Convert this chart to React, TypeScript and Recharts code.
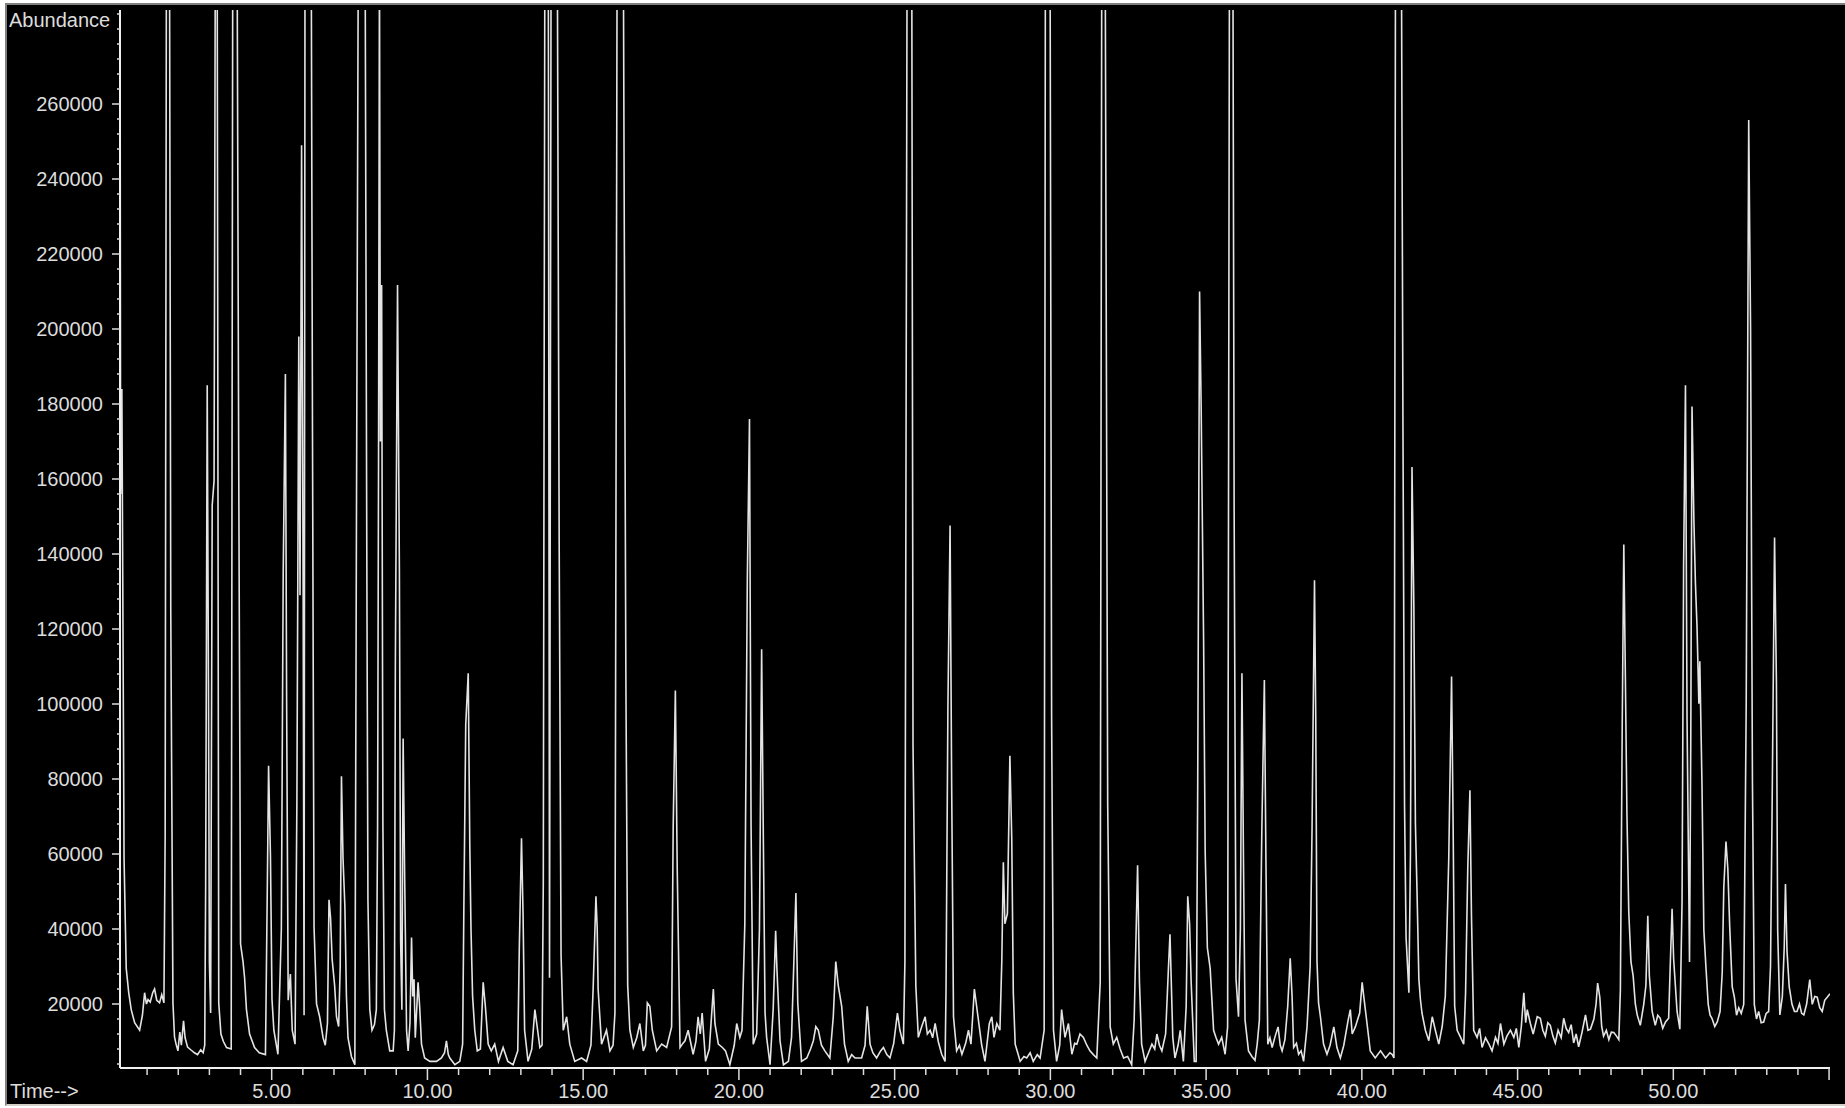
import React from 'react';
import { LineChart, Line, XAxis, YAxis } from 'recharts';

// total ion chromatogram (min, counts)
// 300000 marks peaks that run off the top of the plot
const retentionTime = [
  // 0 - 2.8
  0.13, 0.15, 0.19, 0.26, 0.33, 0.41, 0.49, 0.6, 0.76, 0.85,
  0.92, 0.98, 1.03, 1.1, 1.18, 1.24, 1.31, 1.4, 1.47, 1.54,
  1.58, 1.62, 1.72, 1.76, 1.83, 1.88, 1.93, 1.99, 2.05, 2.1,
  2.17, 2.22, 2.3, 2.4, 2.52, 2.62, 2.72, 2.8,
  // 2.85 - 5.2
  2.85, 2.88, 2.93, 2.97, 3.0, 3.04, 3.09, 3.15, 3.19, 3.25,
  3.3, 3.37, 3.45, 3.55, 3.7, 3.75, 3.89, 3.94, 4.0, 4.08,
  4.13, 4.19, 4.29, 4.45, 4.6, 4.8, 4.86, 4.9, 4.96, 5.01,
  5.07, 5.2,
  // 5.3 - 8.0
  5.31, 5.37, 5.44, 5.48, 5.53, 5.6, 5.66, 5.75, 5.81, 5.87,
  5.91, 5.96, 6.01, 6.04, 6.07, 6.27, 6.31, 6.36, 6.44, 6.54,
  6.65, 6.72, 6.79, 6.84, 6.89, 6.94, 7.02, 7.08, 7.15, 7.2,
  7.24, 7.29, 7.35, 7.4, 7.45, 7.56, 7.67, 7.72, 7.78, 8.0,
  // 8.05 - 9.9
  8.05, 8.09, 8.15, 8.22, 8.3, 8.36, 8.4, 8.43, 8.46, 8.49,
  8.53, 8.57, 8.62, 8.68, 8.79, 8.9, 8.94, 8.97, 9.04, 9.1,
  9.14, 9.18, 9.22, 9.27, 9.33, 9.38, 9.44, 9.49, 9.53, 9.57,
  9.61, 9.7, 9.75, 9.81, 9.91,
  // 10 - 13.7
  10.08, 10.29, 10.45, 10.55, 10.61, 10.67, 10.72, 10.88, 11.04, 11.13,
  11.17, 11.23, 11.31, 11.36, 11.4, 11.45, 11.52, 11.6, 11.7, 11.79,
  11.86, 11.95, 12.05, 12.16, 12.28, 12.43, 12.58, 12.75, 12.9, 12.95,
  13.02, 13.07, 13.12, 13.23, 13.35, 13.45, 13.51, 13.61, 13.68, 13.72,
  // 13.8 - 18.3
  13.77, 13.88, 13.92, 13.97, 14.17, 14.23, 14.29, 14.36, 14.47, 14.57,
  14.73, 14.95, 15.11, 15.25, 15.32, 15.41, 15.45, 15.48, 15.59, 15.75,
  15.86, 15.96, 16.02, 16.09, 16.29, 16.37, 16.43, 16.5, 16.61, 16.72,
  16.82, 16.93, 17.0, 17.06, 17.14, 17.22, 17.36, 17.52, 17.68, 17.84,
  17.89, 17.96, 18.02, 18.11, 18.2, 18.27,
  // 18.4 - 27.6
  18.37, 18.53, 18.62, 18.69, 18.76, 18.82, 18.93, 19.05, 19.18, 19.23,
  19.34, 19.47, 19.57, 19.71, 19.85, 19.93, 20.03, 20.1, 20.19, 20.27,
  20.34, 20.39, 20.46, 20.57, 20.66, 20.73, 20.78, 20.84, 20.89, 21.0,
  21.1, 21.18, 21.22, 21.32, 21.43, 21.59, 21.69, 21.76, 21.83, 21.89,
  22.01, 22.18, 22.3, 22.39, 22.47, 22.55, 22.65, 22.76, 22.92, 23.03,
  23.11, 23.19, 23.3, 23.39, 23.51, 23.62, 23.73, 23.94, 24.05, 24.12,
  24.21, 24.3, 24.42, 24.55, 24.64, 24.75, 24.85, 24.97, 25.09, 25.17,
  25.28, 25.33, 25.4, 25.55, 25.59, 25.68, 25.76, 25.87, 25.98, 26.05,
  26.14, 26.22, 26.3, 26.4, 26.51, 26.62, 26.65, 26.71, 26.78, 26.83,
  26.89, 26.99, 27.08, 27.16, 27.28, 27.37, 27.45, 27.56,
  // 27.7 - 36.6
  27.66, 27.79, 27.9, 28.04, 28.12, 28.19, 28.28, 28.38, 28.44, 28.49,
  28.54, 28.62, 28.7, 28.76, 28.81, 28.87, 29.03, 29.15, 29.24, 29.35,
  29.45, 29.58, 29.67, 29.8, 29.84, 29.99, 30.04, 30.1, 30.2, 30.3,
  30.36, 30.47, 30.58, 30.69, 30.78, 30.85, 30.95, 31.06, 31.17, 31.27,
  31.38, 31.49, 31.6, 31.65, 31.76, 31.84, 31.92, 32.02, 32.13, 32.24,
  32.35, 32.48, 32.61, 32.69, 32.8, 32.86, 32.93, 33.04, 33.15, 33.26,
  33.35, 33.42, 33.5, 33.58, 33.7, 33.79, 33.84, 33.93, 34.0, 34.1,
  34.17, 34.27, 34.36, 34.41, 34.47, 34.52, 34.62, 34.68, 34.73, 34.79,
  34.84, 34.92, 34.97, 35.04, 35.13, 35.24, 35.32, 35.4, 35.5, 35.61,
  35.69, 35.75, 35.86, 35.9, 35.96, 36.04, 36.1, 36.15, 36.2, 36.25,
  36.36, 36.47, 36.57, 36.64,
  // 36.7 - 45.6
  36.71, 36.79, 36.87, 36.92, 36.98, 37.05, 37.12, 37.22, 37.31, 37.38,
  37.44, 37.53, 37.62, 37.7, 37.76, 37.81, 37.9, 37.97, 38.05, 38.13,
  38.24, 38.34, 38.4, 38.48, 38.52, 38.56, 38.61, 38.67, 38.77, 38.88,
  38.98, 39.1, 39.2, 39.31, 39.42, 39.56, 39.63, 39.69, 39.79, 39.93,
  40.01, 40.06, 40.14, 40.27, 40.43, 40.6, 40.76, 40.9, 40.97, 41.03,
  41.08, 41.27, 41.32, 41.37, 41.42, 41.51, 41.56, 41.61, 41.67, 41.72,
  41.77, 41.83, 41.88, 41.93, 42.04, 42.15, 42.26, 42.36, 42.47, 42.58,
  42.68, 42.79, 42.88, 42.93, 42.98, 43.06, 43.17, 43.27, 43.33, 43.4,
  43.47, 43.52, 43.59, 43.7, 43.78, 43.86, 43.97, 44.08, 44.18, 44.29,
  44.37, 44.45, 44.56, 44.66, 44.77, 44.88, 44.96, 45.04, 45.12, 45.2,
  45.26, 45.31, 45.41, 45.5, 45.63,
  // 45.7 - end
  45.73, 45.81, 45.89, 45.97, 46.05, 46.13, 46.21, 46.3, 46.4, 46.48,
  46.56, 46.64, 46.72, 46.8, 46.88, 46.96, 47.07, 47.18, 47.26, 47.34,
  47.45, 47.52, 47.57, 47.64, 47.7, 47.76, 47.85, 47.93, 48.01, 48.09,
  48.17, 48.25, 48.3, 48.36, 48.41, 48.46, 48.51, 48.57, 48.64, 48.71,
  48.78, 48.84, 48.94, 49.05, 49.12, 49.18, 49.23, 49.32, 49.42, 49.5,
  49.58, 49.66, 49.75, 49.85, 49.9, 49.96, 50.01, 50.12, 50.21, 50.28,
  50.33, 50.39, 50.44, 50.52, 50.56, 50.6, 50.66, 50.71, 50.76, 50.82,
  50.85, 50.92, 50.98, 51.05, 51.12, 51.18, 51.24, 51.33, 51.41, 51.5,
  51.57, 51.62, 51.69, 51.75, 51.81, 51.89, 51.96, 52.03, 52.1, 52.18,
  52.26, 52.34, 52.42, 52.48, 52.54, 52.6, 52.67, 52.74, 52.82, 52.9,
  52.98, 53.06, 53.12, 53.17, 53.25, 53.31, 53.35, 53.42, 53.5, 53.56,
  53.6, 53.65, 53.72, 53.81, 53.89, 53.97, 54.05, 54.12, 54.19, 54.28,
  54.38, 54.46, 54.54, 54.62, 54.7, 54.78, 54.86, 54.94, 55.03,
];

const abundance = [
  // 0 - 2.8
  300000, 156000, 184000, 58800, 29500, 23000, 18500, 15000, 13000, 17000,
  23000, 20000, 21200, 20500, 23000, 24000, 21000, 20300, 22500, 20300,
  65000, 300000, 300000, 124700, 20300, 11200, 9300, 7500, 12500, 9000,
  15500, 11000, 8500, 7800, 7000, 6500, 7800, 7000,
  // 2.85 - 5.2
  9000, 51400, 185000, 106000, 31300, 17600, 153000, 159500, 300000, 300000,
  20300, 12000, 10000, 8400, 8000, 300000, 300000, 167700, 36000, 31300,
  27000, 18500, 12000, 8400, 7000, 6500, 51400, 83500, 59700, 21200,
  13000, 6600,
  // 5.3 - 8.0
  40000, 135000, 188000, 100000, 21000, 28000, 13000, 9300, 75000, 198000,
  129000, 249000, 130000, 17000, 300000, 300000, 172000, 40500, 20000, 16600,
  11000, 9000, 14800, 47800, 43000, 32000, 25000, 16600, 14000, 30000,
  80700, 58800, 46000, 22000, 11000, 6000, 3800, 145000, 300000, 300000,
  // 8.05 - 9.9
  149400, 47800, 18500, 13000, 14500, 18500, 68000, 163000, 300000, 170000,
  211700, 68000, 18500, 13000, 7500, 7500, 13000, 110000, 211700, 136000,
  36800, 18500, 90800, 53300, 13000, 7500, 15000, 37700, 22000, 26600,
  11000, 25800, 19400, 9300, 5600,
  // 10 - 13.7
  4700, 4700, 5600, 7000, 10200, 6500, 5600, 3800, 4700, 9300,
  46000, 94500, 108200, 62400, 39500, 22100, 13000, 7500, 8000, 25800,
  19400, 9300, 7500, 9300, 4700, 8400, 4700, 3800, 7500, 35000,
  64200, 44100, 13000, 4700, 8000, 18500, 14800, 8400, 9000, 52400,
  // 13.8 - 18.3
  300000, 300000, 27000, 300000, 300000, 143000, 33100, 13000, 16600, 9300,
  4700, 5600, 4700, 9000, 24000, 48700, 40400, 24000, 9300, 13000,
  7500, 9000, 17600, 300000, 300000, 109000, 24900, 13000, 8400, 11000,
  14800, 7500, 9000, 20300, 19400, 13000, 7500, 9300, 8400, 13900,
  67000, 103600, 56000, 8400, 9500, 10200,
  // 18.4 - 27.6
  13000, 6600, 10000, 16600, 12000, 17600, 4700, 8000, 24000, 14800,
  9300, 8400, 7500, 3800, 9000, 14800, 11100, 13000, 41300, 133000,
  176000, 68000, 9300, 12000, 40000, 114600, 68000, 17600, 11100, 3800,
  18500, 39500, 29500, 10200, 3800, 4700, 11100, 30000, 49600, 20300,
  4700, 5600, 8000, 10200, 14000, 13000, 9000, 7500, 5600, 16600,
  31300, 24900, 19400, 9300, 4700, 6500, 5600, 5600, 9000, 19400,
  9300, 7000, 5600, 7500, 8400, 6500, 5600, 9500, 17600, 13000,
  9300, 31300, 300000, 300000, 89000, 24900, 11100, 14000, 16600, 12000,
  13000, 11000, 14800, 10000, 6600, 4700, 24000, 99000, 147600, 79000,
  16600, 7500, 9000, 6600, 9500, 13000, 9300, 24000,
  // 27.7 - 36.6
  17600, 9300, 4700, 14800, 16600, 11100, 14800, 13000, 31300, 57800,
  41400, 44100, 86200, 64200, 23000, 9300, 4700, 6000, 5600, 7000,
  4700, 6500, 5600, 13000, 300000, 300000, 96300, 13000, 4700, 9000,
  18500, 11100, 14800, 6600, 9500, 9300, 12000, 11100, 9000, 7500,
  6500, 5600, 25800, 300000, 300000, 73400, 13900, 9300, 11100, 8000,
  5600, 6000, 3800, 15700, 57000, 25800, 9300, 4700, 7000, 9300,
  8000, 12000, 9000, 7500, 12000, 29500, 38600, 11100, 5600, 9000,
  13000, 4700, 19400, 48700, 41400, 25800, 4700, 4700, 78000, 210000,
  179600, 116500, 60600, 35000, 29500, 13000, 11000, 9300, 11100, 6600,
  13900, 300000, 300000, 151300, 26700, 16600, 40000, 108200, 57800, 15700,
  7500, 6000, 5000, 9300,
  // 36.7 - 45.6
  15700, 67000, 106400, 58800, 9300, 11000, 8400, 11500, 13900, 9000,
  7500, 10500, 19400, 32200, 22100, 8400, 9500, 6600, 7500, 4700,
  13900, 30000, 66100, 133000, 96300, 31300, 20300, 16600, 9300, 6600,
  9000, 13900, 8400, 5600, 9000, 15700, 18500, 12000, 13900, 17600,
  25800, 22100, 16600, 7500, 5600, 7500, 5600, 7000, 6600, 5600,
  300000, 300000, 173200, 73400, 37700, 23000, 60000, 163200, 125600, 68000,
  50500, 26700, 21200, 17600, 13000, 10200, 16600, 13000, 9300, 14000,
  22100, 58800, 107300, 68000, 19400, 13000, 11100, 9300, 23000, 56000,
  77000, 43200, 13000, 11100, 13500, 8400, 11000, 9300, 7500, 11100,
  9500, 14800, 9300, 11500, 13000, 11100, 13500, 8400, 14000, 23000,
  15000, 18500, 14800, 12000, 16600,
  // 45.7 - end
  16200, 13000, 11400, 15000, 14300, 11500, 9600, 13000, 11000, 16200,
  13500, 12400, 14500, 9600, 12000, 8600, 12500, 17100, 13000, 13300,
  16000, 20000, 25600, 21800, 14000, 11400, 13000, 10500, 12500, 12400,
  11500, 10500, 23700, 95000, 142500, 107600, 70800, 44400, 31200, 27500,
  20000, 17100, 14300, 19900, 25000, 43500, 27500, 18000, 14300, 17000,
  16200, 13500, 15200, 16200, 30000, 45400, 32000, 18000, 13300, 47300,
  136900, 185000, 96300, 31200, 90000, 179300, 149100, 132100, 120800, 100100,
  111400, 78400, 39700, 29400, 19900, 17000, 16200, 14000, 15200, 18000,
  28400, 51000, 63300, 56000, 40700, 24650, 21800, 17000, 19000, 17500,
  19900, 100100, 255700, 200000, 79300, 19900, 16000, 18000, 15000, 15200,
  17500, 18000, 30000, 70900, 144400, 105700, 39700, 17100, 22000, 35000,
  52000, 34100, 24650, 19900, 18000, 18000, 20000, 17500, 17100, 20000,
  26500, 19900, 22000, 21800, 19000, 18000, 21000, 21800, 22760,
];

const xLabelTicks = [5, 10, 15, 20, 25, 30, 35, 40, 45, 50];
const xTicks = [
  1, 2, 3, 4, 5, 6, 7, 8, 9, 10, 11, 12, 13, 14, 15, 16, 17, 18, 19, 20,
  21, 22, 23, 24, 25, 26, 27, 28, 29, 30, 31, 32, 33, 34, 35, 36, 37, 38, 39, 40,
  41, 42, 43, 44, 45, 46, 47, 48, 49, 50, 51, 52, 53, 54, 55,
];
const yLabelTicks = [
  20000, 40000, 60000, 80000, 100000, 120000, 140000,
  160000, 180000, 200000, 220000, 240000, 260000,
];
// minor ticks every 4000 between the labelled ones
const yTicks = Array.from({ length: 71 }, (_, i) => (i + 1) * 4000);

const chartData = retentionTime.map((t, i) => ({ time: t, abundance: abundance[i] }));

const FONT = '"Liberation Sans", Arial, sans-serif';
const INK = '#dcdcdc';

function XTick(props: any) {
  const { x, y, payload } = props;
  const v = payload.value;
  const major = v % 5 === 0;
  return (
    <g>
      <line x1={x} x2={x} y1={y} y2={y + (major ? 12 : 7)} stroke={INK} strokeWidth={1.5} />
      {xLabelTicks.includes(v) && (
        <text x={x} y={y + 30} textAnchor="middle" fill={INK} fontSize={20} fontFamily={FONT}>
          {v.toFixed(2)}
        </text>
      )}
    </g>
  );
}

function YTick(props: any) {
  const { x, y, payload } = props;
  const v = payload.value;
  const major = yLabelTicks.includes(v);
  return (
    <g>
      <line x1={x - (major ? 8 : 3)} x2={x} y1={y} y2={y} stroke={INK} strokeWidth={1.5} />
      {major && (
        <text x={x - 17} y={y + 7} textAnchor="end" fill={INK} fontSize={20} fontFamily={FONT}>
          {v}
        </text>
      )}
    </g>
  );
}

export default function App() {
  return (
    <div style={{ position: 'fixed', left: 0, top: 0, width: 1845, height: 1108, background: '#fff', fontFamily: FONT }}>
      <div
        style={{
          position: 'absolute',
          left: 5,
          top: 3,
          width: 1838,
          height: 1099,
          background: '#000',
          borderTop: '2px solid #808080',
          borderLeft: '2px solid #808080',
          borderBottom: '2px solid #d4d0c8',
        }}
      />
      <div style={{ position: 'absolute', left: 0, top: 0 }}>
        <LineChart width={1845} height={1108} data={chartData} margin={{ top: 10, right: 15, bottom: 0, left: 0 }}>
          <XAxis
            dataKey="time"
            type="number"
            domain={[0.13, 55.03]}
            allowDataOverflow
            ticks={xTicks}
            interval={0}
            height={40}
            tickSize={0}
            tickMargin={0}
            tickLine={false}
            tick={XTick}
            axisLine={{ stroke: '#f0f0f0', strokeWidth: 2 }}
          />
          <YAxis
            type="number"
            domain={[2933, 285067]}
            allowDataOverflow
            ticks={yTicks}
            interval={0}
            width={120}
            tickSize={0}
            tickMargin={0}
            tickLine={false}
            tick={YTick}
            axisLine={{ stroke: '#f0f0f0', strokeWidth: 2 }}
          />
          <Line
            type="linear"
            dataKey="abundance"
            stroke="#e4e4e4"
            strokeWidth={1.6}
            dot={false}
            activeDot={false}
            isAnimationActive={false}
          />
        </LineChart>
      </div>
      <div style={{ position: 'absolute', left: 9, top: 10, color: INK, fontSize: 20, lineHeight: '20px' }}>
        Abundance
      </div>
      <div style={{ position: 'absolute', left: 10, top: 1081, color: INK, fontSize: 20, lineHeight: '20px' }}>
        Time--&gt;
      </div>
    </div>
  );
}
